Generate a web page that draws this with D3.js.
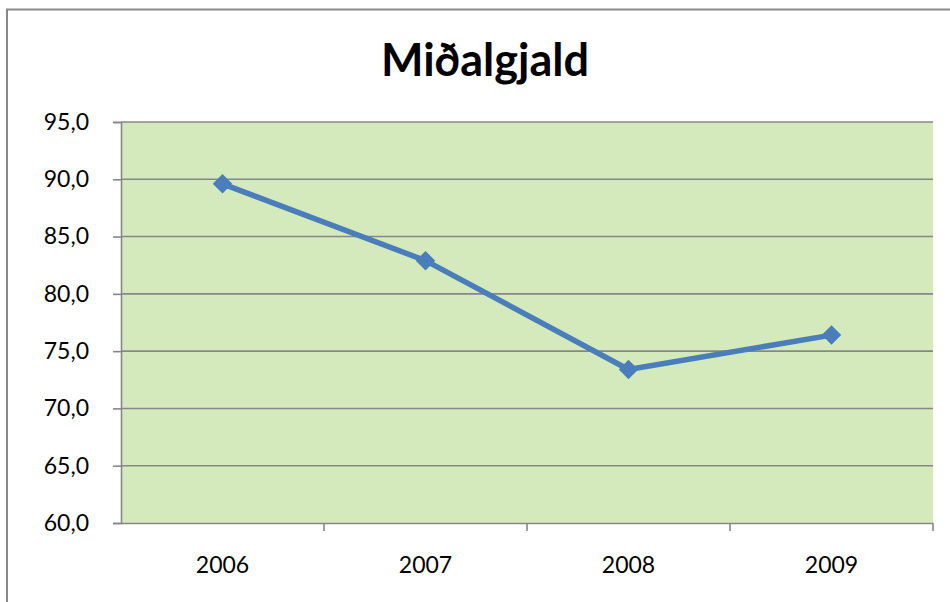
<!DOCTYPE html>
<html>
<head>
<meta charset="utf-8">
<script src="https://cdn.jsdelivr.net/npm/d3@7"></script>
<style>
  body { margin: 0; background: #fff; }
  svg { display: block; }
</style>
</head>
<body>
<svg id="chart"></svg>
<script>
const title = "Miðalgjald";
const years = ["2006", "2007", "2008", "2009"];
const values = [89.6, 82.9, 73.4, 76.4];
const yTicks = [60, 65, 70, 75, 80, 85, 90, 95];

const width = 950;
const height = 602;
const margin = { top: 122, right: 17, bottom: 79, left: 121 };

const svg = d3.select("#chart")
    .attr("width", width)
    .attr("height", height)
    .attr("font-family", "Lato, 'Noto Sans', sans-serif");

// outer chart border (only left and top visible in the frame)
svg.append("path")
    .attr("d", "M7,610 V9.5 H960")
    .attr("fill", "none")
    .attr("stroke", "#888")
    .attr("stroke-width", 2);

svg.append("text")
    .attr("x", 485)
    .attr("y", 76)
    .attr("text-anchor", "middle")
    .attr("font-size", 45)
    .attr("font-weight", 700)
    .attr("fill", "#000")
    .text(title);

const x = d3.scaleBand()
    .domain(years)
    .range([margin.left, width - margin.right]);

const y = d3.scaleLinear()
    .domain([60, 95])
    .range([height - margin.bottom, margin.top]);

// plot area
svg.append("rect")
    .attr("x", margin.left)
    .attr("y", margin.top)
    .attr("width", width - margin.left - margin.right)
    .attr("height", height - margin.top - margin.bottom)
    .attr("fill", "#d5eabc");

// gridlines
svg.append("g")
    .selectAll("line")
    .data(yTicks.filter(d => d > 60))
    .join("line")
    .attr("x1", margin.left)
    .attr("x2", width - margin.right)
    .attr("y1", d => y(d))
    .attr("y2", d => y(d))
    .attr("stroke", "#878787")
    .attr("stroke-width", 1.6);

// y axis
const yAxis = svg.append("g")
    .attr("transform", `translate(${margin.left},0)`)
    .call(d3.axisLeft(y)
        .tickValues(yTicks)
        .tickSize(8)
        .tickPadding(24)
        .tickFormat(d => d3.format(".1f")(d).replace(".", ",")));

// x axis
const xAxis = svg.append("g")
    .attr("transform", `translate(0,${height - margin.bottom})`)
    .call(d3.axisBottom(x).tickSize(0).tickPadding(34));

// x tick marks at category boundaries
svg.append("g")
    .selectAll("line")
    .data(years.map(d => x(d)).concat([width - margin.right]).slice(1))
    .join("line")
    .attr("x1", d => d)
    .attr("x2", d => d)
    .attr("y1", height - margin.bottom)
    .attr("y2", height - margin.bottom + 8)
    .attr("stroke", "#878787")
    .attr("stroke-width", 1.6);

for (const ax of [yAxis, xAxis]) {
    ax.select(".domain").attr("stroke", "#878787").attr("stroke-width", 1.6);
    ax.selectAll(".tick line").attr("stroke", "#878787").attr("stroke-width", 1.6);
    ax.selectAll("text").attr("font-size", 23).attr("fill", "#000")
        .attr("font-family", "Lato, 'Noto Sans', sans-serif");
}
xAxis.select(".domain").attr("d", `M${margin.left},0.5H${width - margin.right}`);

const cx = d => x(d) + x.bandwidth() / 2;

svg.append("path")
    .datum(values)
    .attr("fill", "none")
    .attr("stroke", "#4a7ebb")
    .attr("stroke-width", 5.5)
    .attr("stroke-linejoin", "round")
    .attr("d", d3.line()
        .x((d, i) => cx(years[i]))
        .y(d => y(d)));

svg.append("g")
    .selectAll("path")
    .data(values)
    .join("path")
    .attr("d", d3.symbol(d3.symbolSquare, 190))
    .attr("transform", (d, i) => `translate(${cx(years[i])},${y(d)}) rotate(45)`)
    .attr("fill", "#4a7ebb");
</script>
</body>
</html>
